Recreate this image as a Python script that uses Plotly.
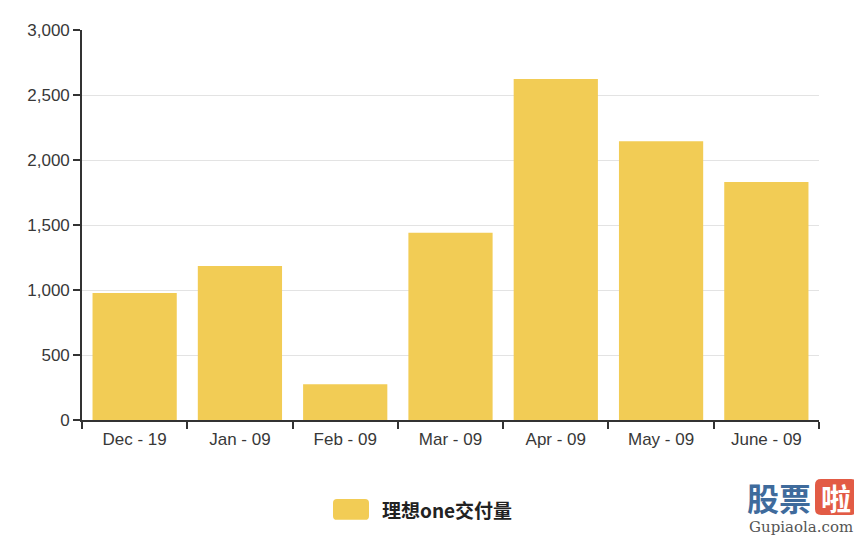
import plotly.graph_objects as go

categories = ["Dec - 19", "Jan - 09", "Feb - 09", "Mar - 09", "Apr - 09", "May - 09", "June - 09"]
deliveries = [977, 1184, 275, 1441, 2624, 2144, 1830]
series_name = "理想one交付量"
y_ticks = [0, 500, 1000, 1500, 2000, 2500, 3000]

# page body has an 8px margin, so the figure sits at (8, 8) in the window
OFF = 8
WIN_W, WIN_H = 862, 536
W, H = WIN_W - OFF, WIN_H - OFF
# plot area in window pixels
PX0, PX1 = 82, 819
PY0, PY1 = 29.5, 420
L, R, T, B = PX0 - OFF, WIN_W - PX1, PY0 - OFF, WIN_H - PY1
PW, PH = PX1 - PX0, PY1 - PY0

BAR_COLOR = "#f2cc55"
TEXT_COLOR = "#383838"


def px(x):
    return (x - PX0) / PW


def py(y):
    return (PY1 - y) / PH


def rounded_rect(x0, y0, x1, y1, r):
    pts = [
        f"M {px(x0 + r)} {py(y0)}",
        f"L {px(x1 - r)} {py(y0)}",
        f"Q {px(x1)} {py(y0)} {px(x1)} {py(y0 + r)}",
        f"L {px(x1)} {py(y1 - r)}",
        f"Q {px(x1)} {py(y1)} {px(x1 - r)} {py(y1)}",
        f"L {px(x0 + r)} {py(y1)}",
        f"Q {px(x0)} {py(y1)} {px(x0)} {py(y1 - r)}",
        f"L {px(x0)} {py(y0 + r)}",
        f"Q {px(x0)} {py(y0)} {px(x0 + r)} {py(y0)}",
        "Z",
    ]
    return " ".join(pts)


fig = go.Figure()
fig.add_trace(go.Bar(
    x=categories,
    y=deliveries,
    name=series_name,
    marker=dict(color=BAR_COLOR, line=dict(width=0)),
    showlegend=False,
))

shapes = [
    dict(type="path", xref="paper", yref="paper",
         path=rounded_rect(333, 499, 369, 520, 4),
         fillcolor=BAR_COLOR, line=dict(width=0), layer="above"),
    dict(type="path", xref="paper", yref="paper",
         path=rounded_rect(815, 479, 857, 515, 6),
         fillcolor="#e25b45", line=dict(width=0), layer="above"),
]

annotations = [
    dict(text=f"<b>{series_name}</b>", xref="paper", yref="paper",
         x=px(380), y=py(510), xanchor="left", yanchor="middle",
         showarrow=False,
         font=dict(size=19, color="#222222", family="Noto Sans CJK SC, Liberation Sans, sans-serif")),
    dict(text="<b>股票</b>", xref="paper", yref="paper",
         x=px(779), y=py(497), xanchor="center", yanchor="middle",
         showarrow=False,
         font=dict(size=32, color="#3f6b9c", family="Noto Sans CJK SC, sans-serif")),
    dict(text="<b>啦</b>", xref="paper", yref="paper",
         x=px(836), y=py(497), xanchor="center", yanchor="middle",
         showarrow=False,
         font=dict(size=30, color="#ffffff", family="Noto Sans CJK SC, sans-serif")),
    dict(text="Gupiaola.com", xref="paper", yref="paper",
         x=px(801), y=py(527), xanchor="center", yanchor="middle",
         showarrow=False,
         font=dict(size=15, color="#555555", family="DejaVu Serif, Liberation Serif, serif")),
]

fig.update_layout(
    width=W, height=H,
    margin=dict(l=L, r=R, t=T, b=B, pad=0),
    paper_bgcolor="white",
    plot_bgcolor="white",
    bargap=0.2,
    font=dict(family="Liberation Sans, Arial, sans-serif", size=17, color=TEXT_COLOR),
    xaxis=dict(
        type="category",
        range=[-0.5, len(categories) - 0.5],
        tickson="boundaries",
        ticks="outside", ticklen=7, tickwidth=1.6, tickcolor="#333333",
        ticklabelstandoff=3,
        showline=True, linecolor="#333333", linewidth=1.6,
        showgrid=False, zeroline=False,
        tickfont=dict(size=17, color=TEXT_COLOR),
        fixedrange=True,
    ),
    yaxis=dict(
        range=[0, 3000],
        tickvals=y_ticks,
        tickformat=",",
        ticks="outside", ticklen=7, tickwidth=1.6, tickcolor="#333333",
        showline=True, linecolor="#333333", linewidth=1.6,
        showgrid=True, gridcolor="#e3e3e3", gridwidth=1.4,
        zeroline=False,
        tickfont=dict(size=17, color=TEXT_COLOR),
        fixedrange=True,
    ),
    shapes=shapes,
    annotations=annotations,
)

fig.write_html("out.html")
